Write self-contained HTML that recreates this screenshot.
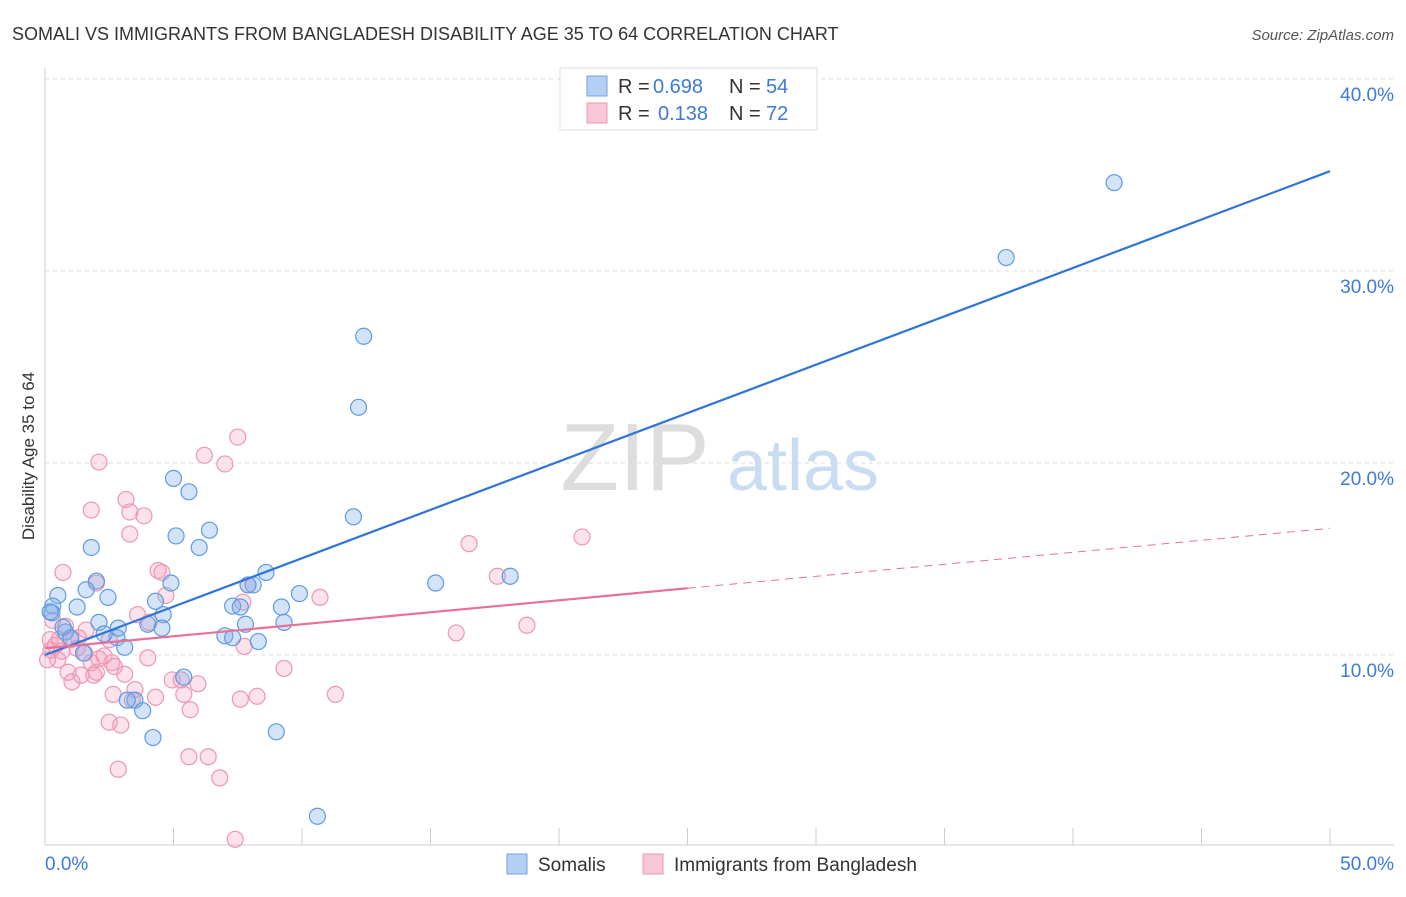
<!DOCTYPE html>
<html><head><meta charset="utf-8"><style>
body{margin:0;background:#fff;font-family:"Liberation Sans",sans-serif;}
svg text{font-family:"Liberation Sans",sans-serif;}
</style></head><body>
<svg id="chart" width="1406" height="892" xmlns="http://www.w3.org/2000/svg">
<text x="12" y="40" font-size="18" fill="#333">SOMALI VS IMMIGRANTS FROM BANGLADESH DISABILITY AGE 35 TO 64 CORRELATION CHART</text>
<text x="1394" y="40" font-size="15" fill="#555" text-anchor="end" font-style="italic">Source: ZipAtlas.com</text>
<g>
<text x="635" y="490" font-size="96" fill="#ddd" font-family="Liberation Serif" text-anchor="middle">ZIP</text>
<text x="803" y="490" font-size="72" fill="#c9dcf2" text-anchor="middle">atlas</text>
</g>
<g id="grid"></g>
<g id="axes"></g>
<g id="points"></g>
<g id="lines"></g>
<text transform="translate(34,456) rotate(-90)" font-size="17" fill="#333" text-anchor="middle">Disability Age 35 to 64</text>
<g>
<rect x="560" y="68" width="257" height="62" fill="#fff" stroke="#ddd"/>
<rect x="587" y="76" width="20" height="20" fill="#b5cff2" stroke="#6fa3e0"/>
<rect x="587" y="103" width="20" height="20" fill="#f8c6d5" stroke="#eb97b3"/>
<text x="618" y="93" font-size="20" fill="#333">R =</text>
<text x="653" y="93" font-size="20" fill="#3d7ad8">0.698</text>
<text x="729" y="93" font-size="20" fill="#333">N =</text>
<text x="766" y="93" font-size="20" fill="#3d7ad8">54</text>
<text x="618" y="120" font-size="20" fill="#333">R =</text>
<text x="658" y="120" font-size="20" fill="#3d7ad8">0.138</text>
<text x="729" y="120" font-size="20" fill="#333">N =</text>
<text x="766" y="120" font-size="20" fill="#3d7ad8">72</text>
</g>
<g>
<rect x="507" y="854" width="20" height="20" fill="#b5cff2" stroke="#6fa3e0"/>
<text x="538" y="871" font-size="19" fill="#333">Somalis</text>
<rect x="643" y="854" width="20" height="20" fill="#f8c6d5" stroke="#eb97b3"/>
<text x="674" y="871" font-size="19" fill="#333">Immigrants from Bangladesh</text>
</g>
</svg>
<script>
const yTicks=[10,20,30,40];
const yTickLabels=["10.0%","20.0%","30.0%","40.0%"];
const xTicks=[0,5,10,15,20,25,30,35,40,45,50];
const xEndLabels=["0.0%","50.0%"];
const blueX=[41.6,37.4,12.4,12.2,12.0,5.0,5.6,6.4,5.1,6.0,1.8,8.6,15.2,18.1,4.9,2.0,1.6,2.45,9.9,0.5,0.3,1.25,0.27,4.3,7.3,7.6,8.1,7.9,9.2,9.3,4.6,4.0,2.1,7.8,0.8,1.0,2.8,7.0,7.3,8.3,3.1,1.5,3.5,3.2,3.8,5.4,4.2,9.0,10.6,4.55,0.2,0.7,2.3,2.85];
const blueY=[34.6,30.7,26.6,22.9,17.2,19.2,18.5,16.5,16.2,15.6,15.6,14.3,13.75,14.1,13.75,13.85,13.4,13.0,13.2,13.1,12.55,12.5,12.2,12.8,12.55,12.5,13.65,13.65,12.5,11.7,12.1,11.6,11.7,11.6,11.2,10.9,10.9,11.0,10.9,10.7,10.4,10.1,7.65,7.65,7.1,8.85,5.7,6.0,1.6,11.4,12.25,11.45,11.1,11.4];
const pinkX=[7.5,2.1,6.2,7.0,3.15,1.8,3.3,3.85,3.3,20.9,16.5,0.7,4.4,4.55,17.6,2.0,4.7,7.7,7.9,10.7,18.75,16.0,0.3,0.8,1.6,1.0,0.2,0.4,0.23,0.66,1.3,2.3,0.5,1.8,2.6,4.0,0.9,1.4,1.9,3.1,3.5,2.65,4.3,5.4,4.95,5.95,9.3,7.75,11.3,7.6,8.25,5.65,2.5,2.95,5.6,6.35,2.85,6.8,7.4,1.05,1.25,1.55,2.5,2.7,2.0,3.4,4.05,3.6,0.1,0.55,2.1,5.3];
const pinkY=[21.35,20.05,20.4,19.95,18.1,17.55,17.45,17.25,16.3,16.15,15.8,14.3,14.4,14.3,14.1,13.75,13.1,12.75,13.65,13.0,11.55,11.15,11.8,11.5,11.3,10.8,10.8,10.5,10.25,10.2,10.9,9.95,9.75,9.6,9.6,9.85,9.1,8.95,8.95,9.0,8.2,7.95,7.8,7.95,8.7,8.5,9.3,10.45,7.95,7.7,7.85,7.15,6.5,6.35,4.7,4.7,4.05,3.6,0.4,8.6,10.35,10.1,10.8,9.4,9.1,7.65,11.7,12.1,9.75,10.8,9.8,8.7];
const blueTrend=[10.0,35.2];
const pinkTrend=[10.35,16.6];
const pinkSolidEnd=25;
const NS="http://www.w3.org/2000/svg";
const sx=v=>45+v*25.7;
const sy=v=>847-v*19.2;
function mk(tag,attrs,parent){const e=document.createElementNS(NS,tag);for(const k in attrs)e.setAttribute(k,attrs[k]);document.getElementById(parent).appendChild(e);return e;}
yTicks.forEach((t,i)=>{
 const g=mk('line',{x1:45,x2:1394,y1:sy(t),y2:sy(t),stroke:'#ddd','stroke-dasharray':'4,4'},'grid');
 
 
 const l=mk('text',{x:1394,y:sy(t)+22,'font-size':19,fill:'#3d7ad8','text-anchor':'end'},'axes');
 l.textContent=yTickLabels[i];
 
 
});
const topGrid=mk('line',{x1:45,x2:1394,y1:79,y2:79,stroke:'#ddd','stroke-dasharray':'4,4'},'grid');


const ya=mk('line',{x1:45,x2:45,y1:68,y2:845,stroke:'#ccc'},'axes');


const xa=mk('line',{x1:45,x2:1394,y1:845,y2:845,stroke:'#ccc'},'axes');


xTicks.forEach(t=>{
 const k=mk('line',{x1:sx(t),x2:sx(t),y1:828,y2:845,stroke:'#ccc'},'axes');
 
 
});
const xl0=mk('text',{x:45,y:870,'font-size':19,fill:'#3d7ad8'},'axes');xl0.textContent=xEndLabels[0];


const xl1=mk('text',{x:1394,y:870,'font-size':19,fill:'#3d7ad8','text-anchor':'end'},'axes');xl1.textContent=xEndLabels[1];


pinkX.forEach((v,i)=>{
 const c=mk('circle',{cx:sx(v),cy:sy(pinkY[i]),r:8,fill:'rgba(244,160,190,0.3)',stroke:'#eb97b3','stroke-width':1.2},'points');
 
 
});
blueX.forEach((v,i)=>{
 const c=mk('circle',{cx:sx(v),cy:sy(blueY[i]),r:8,fill:'rgba(130,175,235,0.35)',stroke:'#5f9be3','stroke-width':1.2},'points');
 
 
});
const bl=mk('line',{x1:sx(0),y1:sy(blueTrend[0]),x2:sx(50),y2:sy(blueTrend[1]),stroke:'#2f74d6','stroke-width':2.2},'lines');


const pAt=x=>pinkTrend[0]+(pinkTrend[1]-pinkTrend[0])*x/50;
const pl=mk('line',{x1:sx(0),y1:sy(pAt(0)),x2:sx(pinkSolidEnd),y2:sy(pAt(pinkSolidEnd)),stroke:'#e8709a','stroke-width':2.2},'lines');


const pd=mk('line',{x1:sx(pinkSolidEnd),y1:sy(pAt(pinkSolidEnd)),x2:sx(50),y2:sy(pAt(50)),stroke:'#e8709a','stroke-width':1,'stroke-dasharray':'8,6'},'lines');


</script>
</body></html>
